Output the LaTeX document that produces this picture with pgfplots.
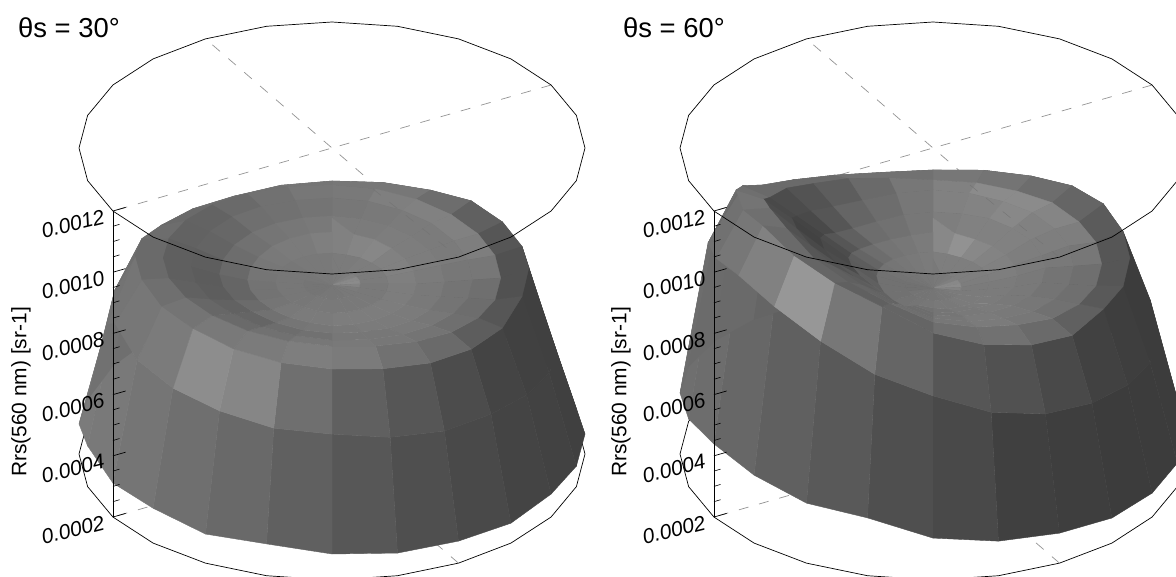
\documentclass[border=0pt]{standalone}
\usepackage{pgfplots}
\usepackage{pgfplotstable}
\usepackage{fontspec}
\setmainfont{Liberation Sans}
\pgfplotsset{compat=1.18}
% Rrs in units of 1e-4 sr-1 (z) and grey level of the facet (c); ten rings from the rim to the centre, azimuth steps 0..24
\pgfplotstableread[row sep=\\]{
z c\\
3.14 70\\2.98 70\\2.92 70\\2.82 70\\2.72 66\\2.42 62\\2.65 64\\2.67 66\\2.75 68\\2.65 72\\2.72 78\\2.74 86\\2.85 95\\3.04 104\\2.95 110\\3.14 116\\3.11 120\\3.33 122\\2.98 118\\2.72 112\\2.82 110\\2.92 110\\2.98 110\\3.08 110\\3.14 70\\
6.41 85\\6.25 85\\6.08 85\\5.92 92\\5.59 85\\5.10 62\\5.33 64\\5.59 65\\5.76 68\\5.89 75\\5.92 85\\6.08 95\\6.31 110\\6.38 133\\6.58 140\\6.74 122\\6.90 118\\7.23 116\\6.25 114\\6.41 110\\6.74 105\\6.90 105\\6.90 105\\6.58 105\\6.41 85\\
7.72 118\\7.78 118\\7.85 108\\8.01 95\\7.98 85\\7.95 80\\8.08 80\\7.98 85\\7.72 92\\7.69 105\\7.75 112\\7.88 122\\7.98 125\\8.08 122\\8.21 120\\8.37 115\\8.44 110\\8.54 105\\8.50 105\\8.21 108\\7.88 105\\7.75 108\\7.65 112\\7.69 116\\7.72 118\\
8.05 120\\8.01 126\\7.95 128\\7.88 128\\7.82 125\\7.78 118\\7.75 110\\7.75 108\\7.82 110\\7.92 115\\8.05 118\\8.18 120\\8.27 118\\8.34 112\\8.41 105\\8.47 102\\8.50 96\\8.47 94\\8.41 94\\8.34 97\\8.27 98\\8.21 105\\8.14 112\\8.08 118\\8.05 120\\
8.08 118\\8.05 120\\7.98 122\\7.92 122\\7.82 122\\7.75 118\\7.69 115\\7.69 115\\7.75 118\\7.82 120\\7.88 118\\7.95 118\\8.01 112\\8.08 108\\8.14 100\\8.21 97\\8.21 92\\8.21 91\\8.14 93\\8.14 99\\8.14 102\\8.14 110\\8.11 112\\8.08 115\\8.08 118\\
7.95 122\\7.92 122\\7.88 124\\7.82 124\\7.75 124\\7.69 122\\7.62 120\\7.62 120\\7.62 122\\7.65 122\\7.69 122\\7.75 120\\7.78 118\\7.82 116\\7.88 112\\7.95 106\\7.95 100\\7.95 100\\7.88 104\\7.88 108\\7.92 112\\7.95 116\\7.95 118\\7.95 120\\7.95 122\\
7.88 128\\7.85 132\\7.82 134\\7.75 128\\7.69 128\\7.62 126\\7.56 124\\7.56 124\\7.56 124\\7.56 124\\7.56 124\\7.56 124\\7.56 122\\7.62 122\\7.65 120\\7.69 116\\7.72 114\\7.72 114\\7.69 116\\7.72 118\\7.75 120\\7.82 122\\7.85 122\\7.88 126\\7.88 128\\
7.65 122\\7.62 122\\7.62 124\\7.59 124\\7.59 122\\7.56 122\\7.56 120\\7.56 120\\7.52 120\\7.52 120\\7.52 120\\7.52 120\\7.52 120\\7.56 120\\7.59 118\\7.59 118\\7.62 118\\7.62 118\\7.62 118\\7.62 118\\7.65 118\\7.65 120\\7.65 120\\7.65 120\\7.65 122\\
7.56 122\\7.56 122\\7.56 124\\7.56 128\\7.56 136\\7.56 138\\7.56 130\\7.56 122\\7.52 120\\7.52 120\\7.52 118\\7.52 118\\7.52 118\\7.52 118\\7.56 116\\7.56 116\\7.56 116\\7.56 116\\7.56 116\\7.56 118\\7.56 118\\7.56 120\\7.56 120\\7.56 120\\7.56 122\\
7.52 120\\7.52 120\\7.52 120\\7.52 120\\7.52 120\\7.52 120\\7.52 120\\7.52 120\\7.52 120\\7.52 120\\7.52 120\\7.52 120\\7.52 120\\7.52 120\\7.52 120\\7.52 120\\7.52 120\\7.52 120\\7.52 120\\7.52 120\\7.52 120\\7.52 120\\7.52 120\\7.52 120\\7.52 120\\
}\tabL
\pgfplotstableread[row sep=\\]{
z c\\
3.24 66\\3.18 66\\3.11 66\\3.05 66\\2.98 62\\2.72 60\\2.78 60\\2.77 60\\2.78 60\\2.82 62\\2.98 64\\3.13 72\\3.37 78\\3.89 88\\3.96 95\\4.22 102\\4.39 108\\4.21 110\\3.99 108\\3.80 106\\3.63 105\\3.50 100\\3.37 90\\3.31 80\\3.24 66\\
7.39 80\\7.23 80\\6.90 80\\6.58 90\\6.25 85\\6.08 60\\5.86 60\\5.92 62\\6.08 65\\6.25 72\\6.48 80\\6.90 85\\7.56 100\\8.14 118\\8.86 150\\9.42 128\\9.68 118\\9.35 112\\8.90 108\\8.41 105\\8.73 105\\8.21 100\\7.72 95\\7.56 85\\7.39 80\\
8.08 118\\8.18 115\\8.31 108\\8.50 100\\8.57 90\\8.44 85\\8.41 85\\8.31 88\\8.34 95\\8.14 105\\8.34 112\\8.67 110\\9.16 100\\9.91 95\\10.37 100\\10.76 105\\11.08 110\\10.82 115\\10.63 110\\9.94 105\\9.19 105\\8.70 105\\8.34 112\\8.11 112\\8.08 118\\
8.21 128\\8.21 138\\8.21 138\\8.27 132\\8.21 125\\8.21 118\\8.21 110\\8.21 110\\8.27 112\\8.37 118\\8.60 122\\8.80 118\\9.06 110\\9.58 100\\10.01 95\\10.37 85\\10.76 80\\10.76 75\\10.33 72\\9.68 75\\9.32 82\\8.90 92\\8.63 105\\8.37 118\\8.21 128\\
8.34 128\\8.31 130\\8.27 135\\8.27 128\\8.21 125\\8.21 120\\8.14 115\\8.14 115\\8.21 118\\8.27 120\\8.41 122\\8.54 118\\8.73 108\\9.12 98\\9.52 92\\9.78 82\\9.97 72\\9.97 66\\9.71 68\\9.19 72\\8.80 85\\8.47 100\\8.31 108\\8.31 118\\8.34 128\\
8.08 125\\8.08 128\\8.11 128\\8.08 128\\8.08 125\\8.01 122\\8.08 120\\8.08 120\\8.08 120\\8.14 122\\8.21 120\\8.27 116\\8.37 108\\8.70 100\\8.93 95\\9.12 88\\9.19 75\\9.19 72\\9.06 75\\8.70 85\\8.31 95\\8.08 108\\8.01 112\\8.05 118\\8.08 125\\
7.88 135\\7.88 145\\7.82 135\\7.82 130\\7.82 128\\7.82 125\\7.82 122\\7.82 122\\7.88 122\\7.88 122\\7.95 120\\7.95 116\\8.01 112\\8.21 106\\8.37 102\\8.47 98\\8.54 95\\8.54 90\\8.41 92\\8.21 100\\8.01 108\\7.88 115\\7.82 118\\7.82 122\\7.88 135\\
7.69 125\\7.65 125\\7.62 125\\7.62 125\\7.62 125\\7.62 124\\7.62 122\\7.62 122\\7.59 122\\7.56 122\\7.62 120\\7.62 120\\7.69 118\\7.75 116\\7.62 114\\7.69 112\\7.75 112\\7.82 112\\7.82 112\\7.78 114\\7.75 116\\7.72 118\\7.69 120\\7.69 122\\7.69 125\\
7.45 120\\7.45 120\\7.45 122\\7.45 126\\7.45 135\\7.45 138\\7.45 130\\7.45 122\\7.45 120\\7.45 118\\7.45 118\\7.45 116\\7.49 116\\7.49 115\\7.52 115\\7.52 115\\7.56 112\\7.56 112\\7.56 112\\7.52 114\\7.52 116\\7.49 116\\7.45 118\\7.45 118\\7.45 120\\
7.42 120\\7.42 120\\7.42 120\\7.42 120\\7.42 120\\7.42 120\\7.42 120\\7.42 120\\7.42 120\\7.42 120\\7.42 120\\7.42 120\\7.42 120\\7.42 120\\7.42 120\\7.42 120\\7.42 120\\7.42 120\\7.42 120\\7.42 120\\7.42 120\\7.42 120\\7.42 120\\7.42 120\\7.42 120\\
}\tabR
\pgfplotstableread[row sep=\\]{k d\\0 0\\1 0\\2 0\\3 0\\4 0\\5 0\\6 0\\7 0\\8 0\\9 0\\10 0\\11 0\\12 0\\13 0\\14 0\\15 0\\16 0\\17 0\\18 0\\19 0\\20 0\\21 0\\22 0\\23 0\\24 0\\}\kring
\pgfplotstableread[row sep=\\]{k d\\4 0\\16 0\\}\kA
\pgfplotstableread[row sep=\\]{k d\\10 0\\22 0\\}\kB
\pgfplotsset{
  dashline/.style={color=gray!85,line width=0.7pt,dash pattern=on 10bp off 11bp},
  rim/.style={black,line width=0.7pt}
}
\tikzset{
  tl/.style={font=\fontsize{21}{21}\selectfont\itshape,rotate=14,anchor=center,inner sep=0pt},
  yl/.style={font=\fontsize{21}{21}\selectfont,rotate=90,anchor=center,inner sep=0pt},
  ttl/.style={font=\fontsize{27.5}{27.5}\selectfont,anchor=west,inner sep=0pt}
}
\newcommand{\circplot}[4]{\addplot[#1] table[x expr={#2+253*sin(15*\thisrow{k})},y expr={#3-126*cos(15*\thisrow{k})}]{#4};}
\newcommand{\panel}[2]{% centre x, table
  \circplot{rim}{#1}{454}{\kring}
  \circplot{dashline}{#1}{454}{\kA}
  \circplot{dashline}{#1}{454}{\kB}
  \circplot{dashline}{#1}{148}{\kA}
  \circplot{dashline}{#1}{148}{\kB}
  \addplot[surf,shader=flat corner,mesh/cols=25,mesh/ordering=x varies,point meta=\thisrow{c}] table[
    x expr={#1+253*(1-floor(\coordindex/25)/9)*sin(15*mod(\coordindex,25))},
    y expr={454-126*(1-floor(\coordindex/25)/9)*cos(15*mod(\coordindex,25))-(\thisrow{z}-2)*30.6}]{#2};
  \circplot{rim}{#1}{148}{\kring}
}
\begin{document}
\begin{tikzpicture}
\begin{axis}[
  scale only axis,width=1176bp,height=576bp,
  xmin=0,xmax=1176,ymin=0,ymax=576,y dir=reverse,hide axis,
  colormap={greys}{gray(0cm)=(0); gray(1cm)=(1)},
  point meta min=0,point meta max=255]
\path (axis cs:0,0) rectangle (axis cs:1176,576);
\panel{332}{\tabL}
\panel{933}{\tabR}
% faint part of the back diagonal seen over the surface
\addplot[color=black!55,line width=0.4pt,dash pattern=on 10bp off 11bp] coordinates {(373,189)(458,257)};
\addplot[color=black!55,line width=0.4pt,dash pattern=on 10bp off 11bp] coordinates {(970,185)(1059,257)};
% vertical axes with their ticks
\addplot[black,line width=0.8pt] coordinates {(113,211)(113,517)};
\addplot[black,line width=0.8pt] coordinates {(714,211)(714,517)};
\pgfplotsinvokeforeach{0,1,2,3,4,5}{
  \draw[black,line width=0.7pt] (axis cs:113,{517-61.2*#1}) -- (axis cs:125.6,{517-61.2*#1-3.6});
  \draw[black,line width=0.7pt] (axis cs:714,{517-61.2*#1}) -- (axis cs:726.6,{517-61.2*#1-3.6});
}
\pgfplotsinvokeforeach{1,2,3,5,6,7,9,10,11,13,14,15,17,18,19}{
  \draw[black,line width=0.6pt] (axis cs:113,{517-15.3*#1}) -- (axis cs:119.5,{517-15.3*#1-2});
  \draw[black,line width=0.6pt] (axis cs:714,{517-15.3*#1}) -- (axis cs:720.5,{517-15.3*#1-2});
}
\node[tl] at (axis cs:73,530) {0.0002};
\node[tl] at (axis cs:73,468.8) {0.0004};
\node[tl] at (axis cs:73,407.6) {0.0006};
\node[tl] at (axis cs:73,346.4) {0.0008};
\node[tl] at (axis cs:73,285.2) {0.0010};
\node[tl] at (axis cs:73,224) {0.0012};
\node[tl] at (axis cs:674,530) {0.0002};
\node[tl] at (axis cs:674,468.8) {0.0004};
\node[tl] at (axis cs:674,407.6) {0.0006};
\node[tl] at (axis cs:674,346.4) {0.0008};
\node[tl] at (axis cs:674,285.2) {0.0010};
\node[tl] at (axis cs:674,224) {0.0012};
\node[yl] at (axis cs:21,392) {Rrs(560 nm) [sr-1]};
\node[yl] at (axis cs:621,392) {Rrs(560 nm) [sr-1]};
\node[ttl] at (axis cs:18,28) {θs = 30°};
\node[ttl] at (axis cs:623,28) {θs = 60°};
\end{axis}
\end{tikzpicture}
\end{document}
